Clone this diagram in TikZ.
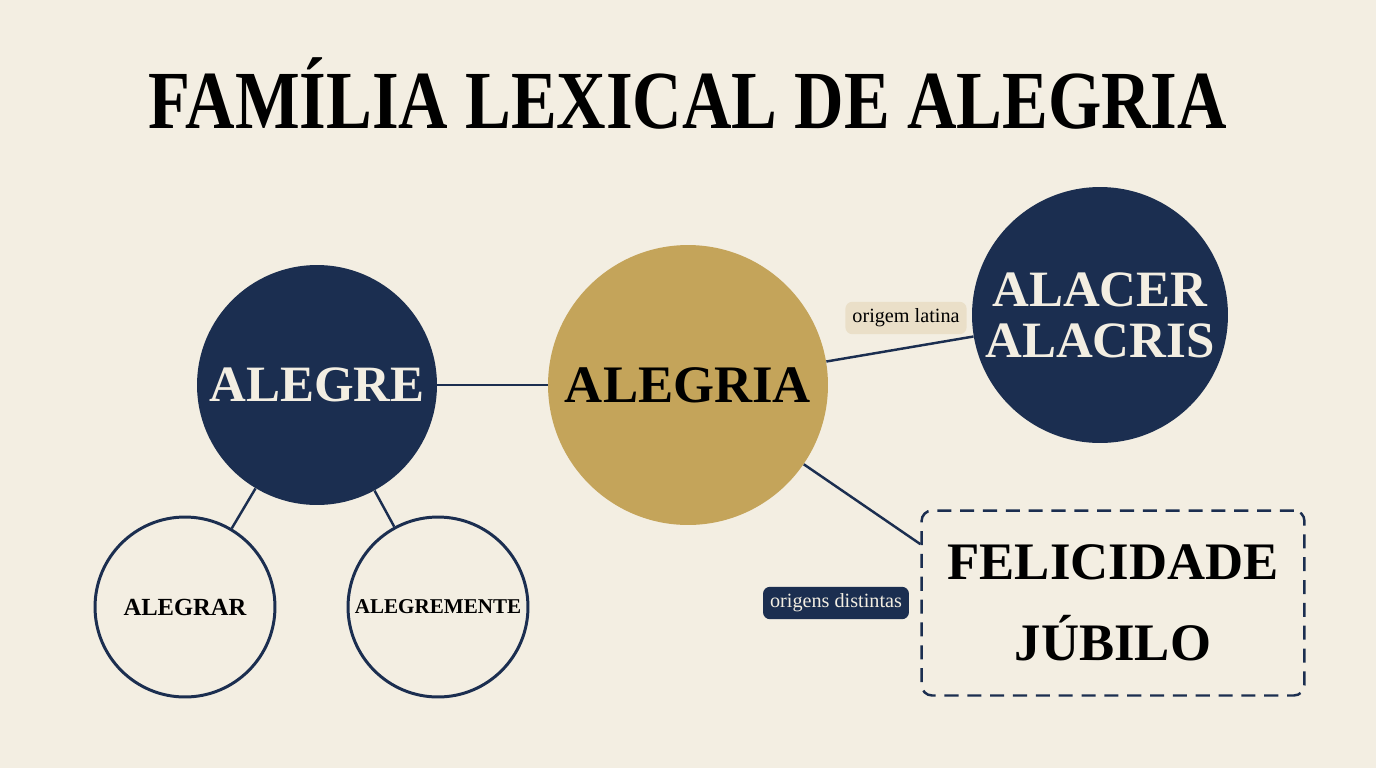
\documentclass[tikz,border=0pt]{standalone}
\usepackage{fontspec}
\setmainfont{Liberation Serif}
\usetikzlibrary{positioning}
\definecolor{fundo}{HTML}{F3EEE2}
\definecolor{marinho}{HTML}{1B2E50}
\definecolor{ouro}{HTML}{C4A45A}
\definecolor{bege}{HTML}{EADFC8}
\begin{document}
\begin{tikzpicture}[x=0.02cm, y=-0.02cm,
    cheio/.style={circle, inner sep=0pt, fill=marinho, text=fundo, font=\bfseries\fontsize{30}{30}\selectfont, align=center},
    vazio/.style={circle, inner sep=0pt, draw=marinho, line width=1.7pt, fill=fundo, font=\bfseries},
    liga/.style={draw=marinho, line width=1.4pt},
    etiqueta/.style={rounded corners=4pt, inner sep=4pt, font=\fontsize{11.5}{13}\selectfont}]
    \fill[fundo] (0,0) rectangle (1376,768);
    % titulo
    \node[font=\bfseries\fontsize{47}{50}\selectfont, xscale=0.83, transform shape] (titulo) at (688,93) {FAMÍLIA LEXICAL DE ALEGRIA};
    % circulos
    \node[cheio, minimum size=4.8cm, font=\bfseries\fontsize{29}{29}\selectfont] (alegre) at (317,385) {ALEGRE};
    \node[circle, inner sep=0pt, fill=ouro, minimum size=5.6cm, font=\bfseries\fontsize{30}{30}\selectfont] (alegria) at (688,385) {ALEGRIA};
    \node[cheio, minimum size=5.12cm, font=\bfseries\fontsize{29}{29}\selectfont] (alacer) at (1100,315) {ALACER\\ALACRIS};
    \node[vazio, minimum size=3.6cm, font=\bfseries\fontsize{14}{16}\selectfont] (alegrar) at (185,607) {ALEGRAR};
    \node[vazio, minimum size=3.6cm, font=\bfseries\fontsize{12}{14}\selectfont] (alegremente) at (438,607) {ALEGREMENTE};
    % caixa tracejada
    \node[draw=marinho, line width=1.4pt, dash pattern=on 8pt off 5pt, rounded corners=6pt,
          minimum width=7.66cm, minimum height=3.7cm, align=center,
          font=\bfseries\fontsize{30}{46}\selectfont] (outras) at (1113,603) {FELICIDADE\\JÚBILO};
    % ligacoes
    \draw[liga] (alegre) -- (alegria);
    \draw[liga] (alegria) -- (alacer);
    \draw[liga] (alegria) -- (outras.163);
    \foreach \f in {alegrar,alegremente} \draw[liga] (alegre) -- (\f);
    % etiquetas
    \node[etiqueta, fill=bege] (latina) at (906,318) {origem latina};
    \node[etiqueta, fill=marinho, text=fundo, left=0.22cm of outras] (distintas) {origens distintas};
\end{tikzpicture}
\end{document}
